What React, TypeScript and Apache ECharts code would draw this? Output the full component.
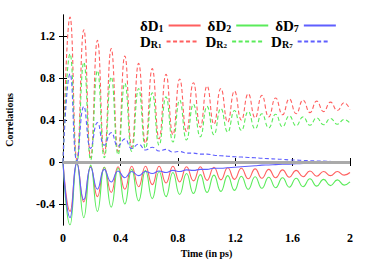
import React, { useEffect, useRef } from "react";
import * as echarts from "echarts";

const times = [
  0, 0.049, 0.097, 0.145, 0.193, 0.24, 0.288, 0.336, 0.384, 0.431, 0.479,
  0.527, 0.575, 0.622, 0.67, 0.718, 0.766, 0.813, 0.861, 0.909, 0.957,
  1.004, 1.052, 1.1, 1.148, 1.195, 1.243, 1.291, 1.339, 1.386, 1.434,
  1.482, 1.53, 1.577, 1.625, 1.673, 1.721, 1.768, 1.816, 1.864, 1.912,
  1.959, 2.0,
];

const dD1 = [
  0, -0.47, -0.01, -0.38, -0.04, -0.33, -0.05, -0.29, -0.045, -0.26, -0.04,
  -0.235, -0.04, -0.215, -0.04, -0.2, -0.04, -0.19, -0.045, -0.18, -0.045,
  -0.175, -0.05, -0.17, -0.055, -0.165, -0.06, -0.16, -0.065, -0.155, -0.07,
  -0.15, -0.075, -0.145, -0.08, -0.14, -0.085, -0.135, -0.09, -0.13, -0.09,
  -0.125, -0.1,
];
const dD2 = [
  0, -0.6, -0.01, -0.53, -0.03, -0.47, -0.05, -0.43, -0.06, -0.4, -0.07,
  -0.37, -0.08, -0.35, -0.09, -0.33, -0.1, -0.31, -0.11, -0.3, -0.12,
  -0.29, -0.125, -0.28, -0.13, -0.27, -0.135, -0.26, -0.14, -0.25, -0.145,
  -0.245, -0.15, -0.24, -0.155, -0.235, -0.16, -0.23, -0.165, -0.225, -0.17,
  -0.22, -0.19,
];
const dD7 = [
  0, -0.53, -0.01, -0.36, -0.05, -0.26, -0.07, -0.19, -0.085, -0.15, -0.09,
  -0.13, -0.09, -0.11, -0.085, -0.1, -0.08, -0.09, -0.075, -0.08, -0.07,
  -0.07, -0.06, -0.06, -0.055, -0.05, -0.045, -0.04, -0.035, -0.03, -0.028,
  -0.025, -0.022, -0.02, -0.017, -0.015, -0.012, -0.01, -0.009, -0.008, -0.007,
  -0.006, -0.005,
];
const dR1 = [
  0, 1.38, 0.02, 1.26, 0.04, 1.16, 0.07, 1.08, 0.1, 1.01, 0.14, 0.94, 0.18,
  0.89, 0.22, 0.835, 0.26, 0.79, 0.29, 0.755, 0.33, 0.724, 0.36, 0.7, 0.38,
  0.676, 0.4, 0.65, 0.42, 0.635, 0.43, 0.61, 0.45, 0.6, 0.46, 0.59, 0.47,
  0.58, 0.48, 0.57, 0.49, 0.565, 0.5,
];
const dR2 = [
  0, 1.03, 0.0, 0.95, 0.02, 0.87, 0.04, 0.81, 0.07, 0.75, 0.1, 0.7, 0.13,
  0.66, 0.16, 0.62, 0.19, 0.59, 0.21, 0.55, 0.24, 0.53, 0.26, 0.51, 0.285,
  0.49, 0.3, 0.48, 0.315, 0.46, 0.325, 0.455, 0.335, 0.44, 0.345, 0.43, 0.35,
  0.42, 0.355, 0.415, 0.36, 0.405, 0.37,
];
const dR7 = [
  0, 0.84, 0.01, 0.53, 0.13, 0.375, 0.16, 0.28, 0.15, 0.22, 0.13, 0.17,
  0.115, 0.14, 0.105, 0.12, 0.095, 0.1, 0.085, 0.085, 0.075, 0.075, 0.065,
  0.06, 0.055, 0.05, 0.047, 0.043, 0.04, 0.035, 0.032, 0.028, 0.025, 0.02,
  0.018, 0.015, 0.012, 0.01, 0.008, 0.006, 0.005, 0.004, 0.003,
];

const yTickValues = [-0.4, 0, 0.4, 0.8, 1.2];

const RED = "rgb(255,95,95)";
const GREEN = "rgb(90,235,90)";
const BLUE = "rgb(95,95,255)";
const SERIF = "'Liberation Serif', 'DejaVu Serif', serif";

const legendNames: Record<string, string> = {
  dD1: "{m|δD}{s|1}",
  dD2: "{m|δD}{s|2}",
  dD7: "{m|δD}{s|7}",
  dR1: "{m|D}{s|R}{ss|1}",
  dR2: "{m|D}{s|R}{ss|2}",
  dR7: "{m|D}{s|R}{ss|7}",
};

function pairs(vals: number[]) {
  return times.map((t, i) => [t, vals[i]]);
}

export default function App() {
  const ref = useRef<HTMLDivElement>(null);
  useEffect(() => {
    if (!ref.current) return;
    const chart = echarts.init(ref.current, null, { renderer: "svg" });
    const rich = {
      m: { fontFamily: SERIF, fontWeight: "bold", fontSize: 15, color: "#000", lineHeight: 15 },
      s: { fontFamily: SERIF, fontWeight: "bold", fontSize: 10, color: "#000", lineHeight: 7, verticalAlign: "bottom" },
      ss: { fontFamily: SERIF, fontWeight: "bold", fontSize: 7, color: "#000", lineHeight: 3, verticalAlign: "bottom" },
    };
    const legendBase = {
      left: 140,
      align: "right",
      orient: "horizontal",
      itemWidth: 32,
      itemHeight: 10,
      itemGap: 6,
      padding: 0,
      selectedMode: false,
      itemStyle: { opacity: 0 },
      formatter: (n: string) => legendNames[n],
      textStyle: { rich },
    };
    const mk = (name: string, vals: number[], color: string, dashed: boolean, extra: any = {}) => ({
      name,
      type: "line",
      data: pairs(vals),
      smooth: 0.5,
      symbol: "none",
      lineStyle: { color, width: 1.1, type: dashed ? [4, 2.5] : "solid" },
      itemStyle: { color },
      ...extra,
    });
    chart.setOption({
      animation: false,
      grid: { left: 63, right: 24, top: 15, bottom: 37, outerBoundsMode: "none", containLabel: false },
      legend: [
        { ...legendBase, top: 18, data: ["dD1", "dD2", "dD7"] },
        { ...legendBase, top: 34, data: ["dR1", "dR2", "dR7"] },
      ],
      xAxis: [
        {
          type: "value",
          min: 0,
          max: 2,
          interval: 0.4,
          name: "Time (in ps)",
          nameLocation: "middle",
          nameGap: 23,
          nameTextStyle: { fontFamily: SERIF, fontWeight: "bold", fontSize: 10, color: "#000" },
          axisLine: { lineStyle: { color: "#000", width: 1 } },
          axisTick: { inside: true, length: 4, lineStyle: { color: "#000" } },
          axisLabel: { fontFamily: SERIF, fontWeight: "bold", fontSize: 12, color: "#000", margin: 7 },
          splitLine: { show: false },
        },
        {
          type: "value",
          position: "top",
          min: 0,
          max: 2,
          interval: 0.4,
          axisLine: { lineStyle: { color: "#000", width: 1 } },
          axisTick: { inside: true, length: 4, lineStyle: { color: "#000" } },
          axisLabel: { show: false },
          splitLine: { show: false },
        },
      ],
      yAxis: [
        {
          type: "value",
          min: -0.6,
          max: 1.4,
          name: "Correlations",
          nameLocation: "middle",
          nameGap: 49,
          nameTextStyle: { fontFamily: SERIF, fontWeight: "bold", fontSize: 10, color: "#000" },
          axisLine: { show: true, lineStyle: { color: "#000", width: 1 } },
          axisTick: { show: true, inside: true, length: 4, customValues: yTickValues, lineStyle: { color: "#000" } },
          axisLabel: { fontFamily: SERIF, fontWeight: "bold", fontSize: 12, color: "#000", margin: 8, customValues: yTickValues },
          splitLine: { show: false },
        },
        {
          type: "value",
          position: "right",
          min: -0.6,
          max: 1.4,
          axisLine: { show: true, lineStyle: { color: "#000", width: 1 } },
          axisTick: { show: true, inside: true, length: 4, customValues: yTickValues, lineStyle: { color: "#000" } },
          axisLabel: { show: false, customValues: yTickValues },
          splitLine: { show: false },
        },
      ],
      series: [
        mk("dD1", dD1, RED, false, {
          markLine: {
            silent: true,
            symbol: "none",
            label: { show: false },
            lineStyle: { color: "#aaaaaa", width: 3, type: "solid" },
            data: [{ yAxis: 0 }],
          },
        }),
        mk("dD2", dD2, GREEN, false),
        mk("dD7", dD7, BLUE, false),
        mk("dR1", dR1, RED, true),
        mk("dR2", dR2, GREEN, true),
        mk("dR7", dR7, BLUE, true),
      ],
    });
    return () => chart.dispose();
  }, []);
  return (
    <div
      ref={ref}
      style={{ position: "fixed", left: 0, top: 0, width: 374, height: 262, background: "#fff" }}
    />
  );
}
